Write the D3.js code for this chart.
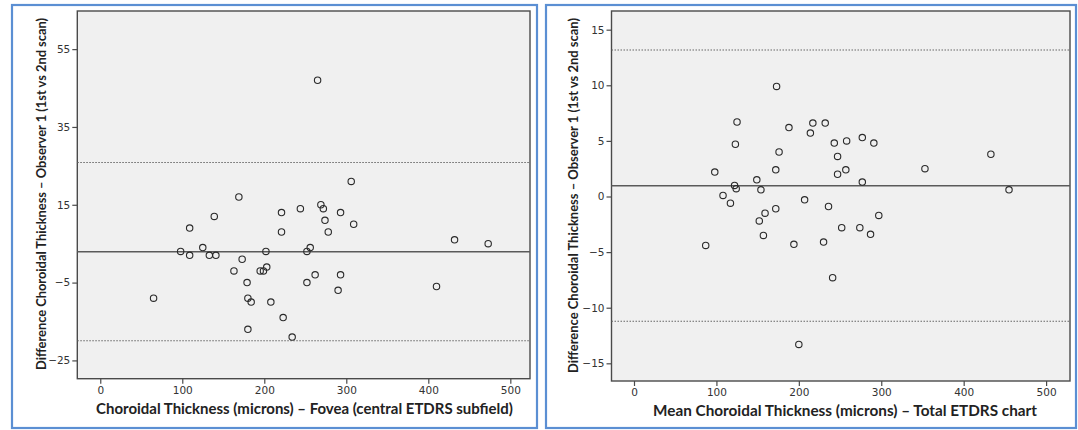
<!DOCTYPE html>
<html><head><meta charset="utf-8">
<script src="https://cdn.jsdelivr.net/npm/d3@7"></script>
<style>body{margin:0;background:#fff;} svg{display:block}</style>
</head><body><svg id="c" width="1078" height="430"></svg>
<script>
// ---- Data ----
const leftX = [265,306,169,269,272,244,221,293,139,274,309,109,221,278,432,473,125,256,98,202,252,109,133,141,173,163,195,199,203,262,293,179,252,410,290,65,180,184,208,223,180,234];
const leftY = [47,21,17,15,14,14,13,13,12,11,10,9,8,8,6,5,4,4,3,3,3,2,2,2,1,-2,-2,-2,-1,-3,-3,-5,-5,-6,-7,-9,-9,-10,-10,-14,-17,-19];
const rightX = [173,125,188,217,232,214,123,243,258,277,291,176,247,433,98,172,257,247,353,149,277,122,124,154,455,108,117,207,236,172,159,297,152,252,274,157,287,230,194,87,241,200];
const rightY = [9.9,6.7,6.2,6.6,6.6,5.7,4.7,4.8,5.0,5.3,4.8,4.0,3.6,3.8,2.2,2.4,2.4,2.0,2.5,1.5,1.3,1.0,0.7,0.6,0.6,0.1,-0.6,-0.3,-0.9,-1.1,-1.5,-1.7,-2.2,-2.8,-2.8,-3.5,-3.4,-4.1,-4.3,-4.4,-7.3,-13.3];
const xTicks = [0,100,200,300,400,500];
const leftYTicks = [-25,-5,15,35,55];
const rightYTicks = [-15,-10,-5,0,5,10,15];
const leftMean = 2.95;
const leftLimits = [25.85,-19.95];
const rightMean = 0.97;
const rightLimits = [13.17,-11.22];
const yTitle = "Difference Choroidal Thickness \u2013 Observer 1 (1st vs 2nd scan)";
const leftXTitle = "Choroidal Thickness (microns) \u2013 Fovea (central ETDRS subfield)";
const rightXTitle = "Mean Choroidal Thickness (microns) \u2013 Total ETDRS chart";

const svg = d3.select("#c");
const FONT = "'DejaVu Sans', 'Noto Sans', sans-serif";
const TFONT = "Lato, 'Open Sans', sans-serif";

function fitText(sel, target, base){
  const len = sel.node().getComputedTextLength();
  sel.attr("font-size", (base*target/len).toFixed(2));
}

function panel(cfg){
  const g = svg.append("g");
  g.append("rect").attr("x",cfg.bx).attr("y",cfg.by).attr("width",cfg.bw).attr("height",cfg.bh)
    .attr("fill","#fff").attr("stroke","#5b8fd3").attr("stroke-width",2.2);
  const x = d3.scaleLinear().domain(cfg.xd).range([cfg.fx0,cfg.fx1]);
  const y = d3.scaleLinear().domain(cfg.yd).range([cfg.fy1,cfg.fy0]);
  g.append("rect").attr("x",cfg.fx0).attr("y",cfg.fy0).attr("width",cfg.fx1-cfg.fx0).attr("height",cfg.fy1-cfg.fy0)
    .attr("fill","#f0f0f0").attr("stroke","#4a4a4a").attr("stroke-width",1.4);
  const ax = g.append("g").attr("transform",`translate(0,${cfg.fy1})`)
    .call(d3.axisBottom(x).tickValues(xTicks).tickSize(5).tickPadding(3).tickFormat(d3.format("d")));
  const ay = g.append("g").attr("transform",`translate(${cfg.fx0},0)`)
    .call(d3.axisLeft(y).tickValues(cfg.yTicks).tickSize(5).tickPadding(2).tickFormat(d3.format("d")));
  [ax,ay].forEach(a=>{
    a.select(".domain").remove();
    a.selectAll("line").attr("stroke","#4a4a4a").attr("stroke-width",1.2);
    a.selectAll("text").attr("font-family",FONT).attr("font-size",10.5).attr("fill","#333");
  });
  g.append("line").attr("x1",cfg.fx0).attr("x2",cfg.fx1).attr("y1",y(cfg.mean)).attr("y2",y(cfg.mean))
    .attr("stroke","#5a5a5a").attr("stroke-width",1.5);
  g.selectAll(".lim").data(cfg.limits).enter().append("line")
    .attr("x1",cfg.fx0).attr("x2",cfg.fx1).attr("y1",d=>y(d)).attr("y2",d=>y(d))
    .attr("stroke","#666").attr("stroke-width",1.1).attr("stroke-dasharray","1.5,1.5");
  g.selectAll(".pt").data(cfg.xs.map((v,i)=>[v,cfg.ys[i]])).enter().append("circle")
    .attr("cx",d=>x(d[0])).attr("cy",d=>y(d[1])).attr("r",3.2)
    .attr("fill","none").attr("stroke","#2a2a2a").attr("stroke-width",1.1);
  const xt = g.append("text").attr("x",(cfg.xt0+cfg.xt1)/2).attr("y",cfg.xty).attr("text-anchor","middle")
    .attr("font-family",TFONT).attr("font-weight","bold").attr("font-size",14).attr("fill","#222")
    .text(cfg.xTitle);
  fitText(xt, cfg.xt1-cfg.xt0, 14);
  const yt = g.append("text").attr("transform",`translate(${cfg.ytx},${(cfg.yt0+cfg.yt1)/2}) rotate(-90)`)
    .attr("text-anchor","middle").attr("font-family",TFONT).attr("font-weight","bold").attr("font-size",12)
    .attr("fill","#222").text(yTitle);
  fitText(yt, cfg.yt1-cfg.yt0, 12);
}

panel({bx:12,by:5,bw:525,bh:423, fx0:77.3,fx1:530,fy0:11,fy1:378.7,
  xd:[-28,524], yd:[-29.7,64.8], yTicks:leftYTicks, mean:leftMean, limits:leftLimits,
  xs:leftX, ys:leftY, xTitle:leftXTitle, xt0:96, xt1:513, xty:414, ytx:45.5, yt0:18, yt1:370});
panel({bx:546,by:5,bw:530,bh:423, fx0:611.5,fx1:1070,fy0:11,fy1:381,
  xd:[-27.3,529], yd:[-16.59,16.68], yTicks:rightYTicks, mean:rightMean, limits:rightLimits,
  xs:rightX, ys:rightY, xTitle:rightXTitle, xt0:653, xt1:1037, xty:416, ytx:577.5, yt0:18, yt1:373});
</script></body></html>
